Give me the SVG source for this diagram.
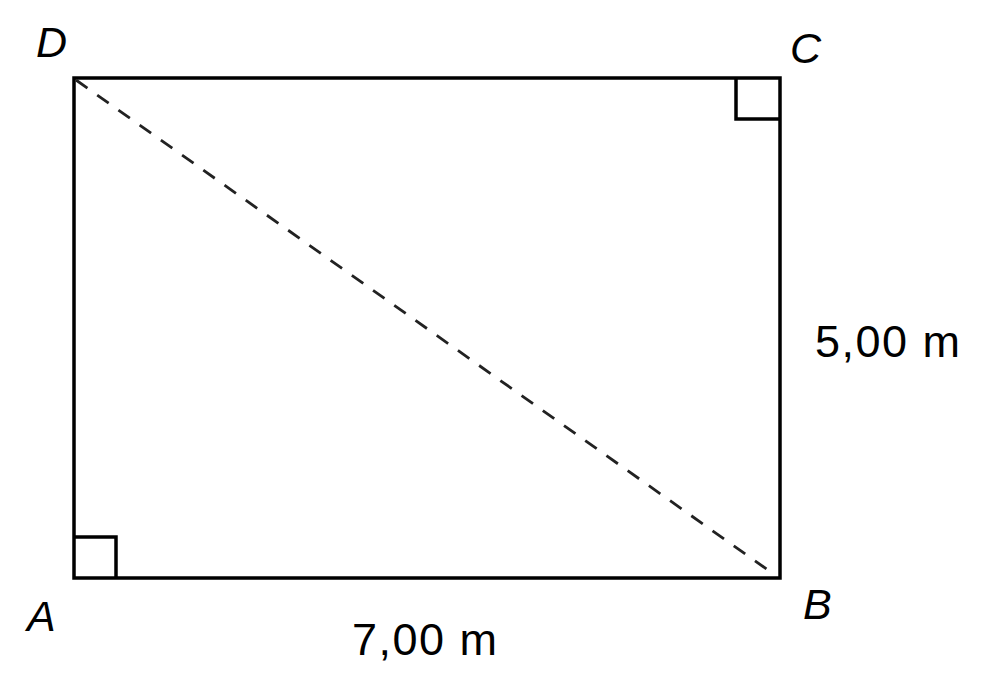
<svg xmlns="http://www.w3.org/2000/svg" width="1000" height="680" viewBox="0 0 1000 680">
<style>
.edge{fill:none;stroke:#000;stroke-width:3.5}
.dash{fill:none;stroke:#222;stroke-width:2.8;stroke-dasharray:14 12}
.lbl{font-family:"Liberation Sans",Arial,sans-serif;font-style:italic;font-size:43px;fill:#000}
.dim{font-family:"Liberation Sans",Arial,sans-serif;font-size:45px;letter-spacing:1.5px;fill:#000}
</style>
<rect width="1000" height="680" fill="#fff"/>
<g id="rectangle">
<rect class="edge" x="74" y="78" width="706" height="500"/>
<polyline class="edge" points="736,78 736,119 780,119"/>
<polyline class="edge" points="74,537 116,537 116,578"/>
</g>
<g id="connectors">
<line class="dash" x1="76" y1="80" x2="775" y2="575"/>
</g>
<g id="labels">
<text class="lbl" x="36" y="57">D</text>
<text class="lbl" x="790" y="63">C</text>
<text class="lbl" x="27" y="631">A</text>
<text class="lbl" x="803" y="619">B</text>
<text class="dim" x="815" y="357">5,00 m</text>
<text class="dim" x="352" y="655">7,00 m</text>
</g>
</svg>
